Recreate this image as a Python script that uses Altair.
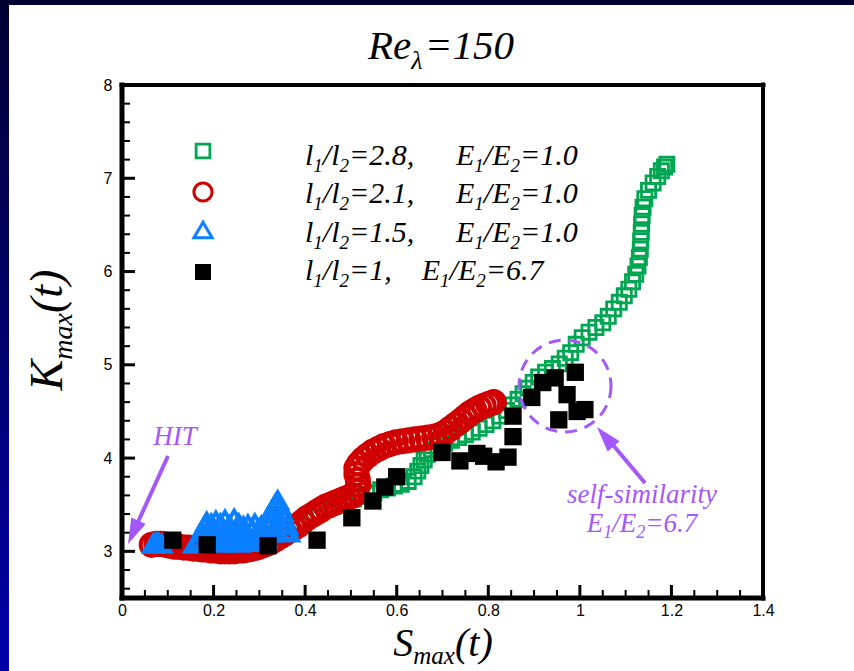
import altair as alt
import pandas as pd

# ---------------- data ----------------
green_x = [0.07, 0.085, 0.10, 0.115, 0.13, 0.145, 0.16, 0.175, 0.19, 0.205,
           0.22, 0.235, 0.25, 0.265, 0.28, 0.295, 0.31, 0.325, 0.34, 0.355,
           0.37, 0.385, 0.40, 0.415, 0.43, 0.445, 0.46, 0.475, 0.49, 0.505,
           0.52, 0.535, 0.55, 0.565, 0.58, 0.595, 0.61, 0.625, 0.638, 0.646,
           0.653, 0.66, 0.667, 0.676, 0.69, 0.705, 0.72, 0.735, 0.75, 0.765,
           0.78, 0.795, 0.81, 0.825, 0.84, 0.853, 0.865, 0.876, 0.887, 0.898,
           0.91, 0.925, 0.94, 0.955, 0.968, 0.98, 0.992, 1.005, 1.02, 1.035,
           1.05, 1.062, 1.074, 1.086, 1.097, 1.107, 1.115, 1.122, 1.127, 1.13,
           1.132, 1.133, 1.134, 1.135, 1.136, 1.138, 1.142, 1.15, 1.16, 1.17,
           1.178, 1.185, 1.19]
green_y = [3.08, 3.07, 3.07, 3.06, 3.06, 3.05, 3.05, 3.04, 3.04, 3.04,
           3.04, 3.05, 3.05, 3.06, 3.07, 3.09, 3.11, 3.14, 3.17, 3.21,
           3.25, 3.29, 3.33, 3.37, 3.41, 3.45, 3.48, 3.51, 3.54, 3.56,
           3.59, 3.61, 3.63, 3.66, 3.68, 3.70, 3.72, 3.75, 3.80, 3.86,
           3.92, 3.98, 4.04, 4.09, 4.13, 4.16, 4.19, 4.22, 4.25, 4.28,
           4.32, 4.36, 4.40, 4.45, 4.51, 4.57, 4.63, 4.69, 4.75, 4.81,
           4.87, 4.92, 4.96, 5.01, 5.07, 5.13, 5.22, 5.29, 5.35, 5.40,
           5.45, 5.52, 5.60, 5.67, 5.74, 5.81, 5.89, 5.97, 6.06, 6.15,
           6.24, 6.33, 6.42, 6.51, 6.60, 6.69, 6.78, 6.87, 6.95, 7.02,
           7.08, 7.12, 7.15]

red_x = [0.065, 0.075, 0.085, 0.095, 0.105, 0.115, 0.125, 0.135, 0.145, 0.155,
         0.165, 0.175, 0.185, 0.195, 0.205, 0.215, 0.225, 0.235, 0.245, 0.255,
         0.265, 0.275, 0.285, 0.295, 0.305, 0.315, 0.325, 0.335, 0.345, 0.355,
         0.365, 0.375, 0.385, 0.395, 0.405, 0.415, 0.425, 0.435, 0.445, 0.455,
         0.465, 0.475, 0.485, 0.495, 0.505, 0.512, 0.516, 0.515, 0.512, 0.512,
         0.518, 0.527, 0.537, 0.548, 0.56, 0.572, 0.585, 0.598, 0.612, 0.626,
         0.64, 0.654, 0.668, 0.682, 0.695, 0.707, 0.718, 0.729, 0.74, 0.75,
         0.76, 0.77, 0.78, 0.79, 0.80, 0.808, 0.812]
red_y = [3.07, 3.08, 3.08, 3.07, 3.06, 3.05, 3.05, 3.04, 3.04, 3.03,
         3.03, 3.02, 3.02, 3.01, 3.01, 3.00, 3.00, 3.00, 3.00, 3.01,
         3.01, 3.02, 3.03, 3.04, 3.06, 3.08, 3.10, 3.13, 3.16, 3.19,
         3.22, 3.25, 3.28, 3.32, 3.36, 3.39, 3.42, 3.45, 3.48, 3.50,
         3.52, 3.54, 3.56, 3.58, 3.60, 3.65, 3.71, 3.77, 3.83, 3.89,
         3.94, 3.99, 4.03, 4.07, 4.10, 4.13, 4.15, 4.17, 4.18, 4.19,
         4.20, 4.21, 4.22, 4.23, 4.25, 4.28, 4.32, 4.36, 4.40, 4.44,
         4.48, 4.51, 4.54, 4.56, 4.58, 4.59, 4.60]

blue_x = [0.068, 0.074, 0.08, 0.086, 0.158, 0.164, 0.17, 0.175, 0.18, 0.185,
          0.19, 0.195, 0.2, 0.205, 0.21, 0.215, 0.22, 0.225, 0.23, 0.235,
          0.24, 0.245, 0.25, 0.255, 0.26, 0.265, 0.27, 0.275, 0.28, 0.285,
          0.29, 0.295, 0.3, 0.305, 0.31, 0.315, 0.32, 0.325, 0.33, 0.335,
          0.34, 0.345, 0.35, 0.355, 0.36, 0.365,
          0.185, 0.195, 0.205, 0.215, 0.225, 0.235, 0.245, 0.255, 0.265, 0.275,
          0.285, 0.295, 0.305, 0.315, 0.325, 0.335, 0.345, 0.355]
blue_y = [3.08, 3.10, 3.09, 3.08, 3.08, 3.10, 3.14, 3.20, 3.27, 3.32,
          3.22, 3.30, 3.15, 3.33, 3.20, 3.30, 3.12, 3.34, 3.24, 3.28,
          3.14, 3.35, 3.22, 3.30, 3.12, 3.27, 3.18, 3.29, 3.12, 3.24,
          3.30, 3.14, 3.25, 3.28, 3.18, 3.30, 3.34, 3.40, 3.46, 3.51,
          3.55, 3.49, 3.42, 3.35, 3.28, 3.20,
          3.12, 3.10, 3.11, 3.09, 3.12, 3.10, 3.11, 3.09, 3.10, 3.12,
          3.10, 3.11, 3.12, 3.14, 3.20, 3.26, 3.30, 3.22]

black_x = [0.111, 0.186, 0.319, 0.426, 0.502, 0.548, 0.574, 0.600, 0.699, 0.738,
           0.775, 0.79, 0.817, 0.843, 0.854, 0.854, 0.895, 0.919, 0.946, 0.972,
           0.990, 0.954, 0.994, 1.011]
black_y = [3.12, 3.07, 3.06, 3.12, 3.36, 3.54, 3.69, 3.80, 4.06, 3.97,
           4.05, 4.02, 3.96, 4.01, 4.23, 4.45, 4.65, 4.81, 4.86, 4.68,
           4.92, 4.41, 4.50, 4.52]

x_ticks = [0, 0.2, 0.4, 0.6, 0.8, 1.0, 1.2, 1.4]
y_ticks = [3, 4, 5, 6, 7, 8]
legend_ratio = ["2.8", "2.1", "1.5", "1"]
legend_energy = ["1.0", "1.0", "1.0", "6.7"]

# ---------------- styling ----------------
W, H = 641, 513
PAD = {"left": 122, "top": 85, "right": 91, "bottom": 73}
SERIF = "Liberation Serif"
SANS = "Liberation Sans"
GREEN = "#00A651"
RED = "#D00000"
BLUE = "#0A7FFF"
PURPLE = "#A558F8"

xs = alt.Scale(domain=[0, 1.4], nice=False, zero=False)
ys = alt.Scale(domain=[2.5, 8], nice=False, zero=False)
xaxis = alt.Axis(values=x_ticks, format="~g", title=None, domain=False, ticks=False,
                 grid=False, labelFont=SANS, labelFontSize=16, labelColor="black",
                 labelPadding=4, labelFlush=False, labelOverlap=False, zindex=1)
yaxis = alt.Axis(values=y_ticks, format="~g", title=None, domain=False, ticks=False,
                 grid=False, labelFont=SANS, labelFontSize=16, labelColor="black",
                 labelPadding=10, labelOverlap=False, zindex=1)

one = pd.DataFrame({"k": [0]})
layers = []


def box(x1, x2, y1, y2, fill):
    return alt.Chart(one).mark_rect(fill=fill, strokeWidth=0).encode(
        x=alt.value(x1), x2=alt.value(x2), y=alt.value(y1), y2=alt.value(y2))


# slide frame (dark blue band left / top)
grad = alt.LinearGradient(gradient="linear", x1=0, y1=0, x2=0, y2=1,
                          stops=[alt.GradientStop(color="#000033", offset=0),
                                 alt.GradientStop(color="#0000A8", offset=1)])
layers.append(box(-PAD["left"], -PAD["left"] + 9, -PAD["top"], H + PAD["bottom"], grad))
layers.append(box(-PAD["left"], W + PAD["right"], -PAD["top"], -PAD["top"] + 5, "#000033"))


def series(xv, yv, **mk):
    df = pd.DataFrame({"x": xv, "y": yv})
    return alt.Chart(df).mark_point(opacity=1, **mk).encode(
        x=alt.X("x:Q", scale=xs, axis=xaxis),
        y=alt.Y("y:Q", scale=ys, axis=yaxis))


layers.append(series(green_x, green_y, shape="square", size=200, filled=False,
                     color=GREEN, strokeWidth=2.8))
layers.append(series(red_x, red_y, shape="circle", size=490, filled=False,
                     color=RED, strokeWidth=4))
layers.append(series(blue_x, blue_y, shape="triangle-up", size=330, filled=False,
                     color=BLUE, strokeWidth=4))
layers.append(series(black_x, black_y, shape="square", size=300, filled=True,
                     color="black", strokeWidth=0))

# inward ticks
x_minor = [round(i * 0.05, 2) for i in range(29) if i % 4]
y_minor = [v for v in [round(2.6 + 0.2 * i, 1) for i in range(27)] if abs(v - round(v)) > 1e-6]


def xtick(vals, ln, sw):
    return alt.Chart(pd.DataFrame({"v": vals})).mark_rule(color="black", strokeWidth=sw).encode(
        x=alt.X("v:Q", scale=xs, axis=xaxis), y=alt.value(H), y2=alt.value(H - ln))


def ytick(vals, ln, sw):
    return alt.Chart(pd.DataFrame({"v": vals})).mark_rule(color="black", strokeWidth=sw).encode(
        y=alt.Y("v:Q", scale=ys, axis=yaxis), x=alt.value(0), x2=alt.value(ln))


layers += [xtick(x_ticks, 13, 3), xtick(x_minor, 8, 2),
           ytick(y_ticks, 13, 3), ytick(y_minor, 8, 2)]

# frame: solid black bars
layers.append(box(-2.5, 2.5, -2.5, H + 2.5, "black"))
layers.append(box(-2.5, W + 2.5, H - 2.5, H + 2.5, "black"))
layers.append(box(-2.5, W + 2.5, -2, 2, "black"))
layers.append(box(W - 2, W + 2, -2.5, H + 2.5, "black"))

# ---------------- rich text helpers ----------------
TW = {' ': 250, '(': 333, ')': 333, ',': 250, '.': 250, '/': 278, '=': 675, '-': 333,
      'E': 611, 'K': 667, 'R': 611, 'S': 500, 'H': 722, 'I': 333, 'T': 556,
      'a': 500, 'e': 444, 'f': 278, 'i': 278, 'l': 278, 'm': 722, 'r': 389,
      's': 389, 't': 278, 'x': 444, 'y': 444, 'λ': 520}


def tw(s, fs):
    return sum(TW.get(c, 500) for c in s) * fs / 1000.0


texts = []


def rich(segs, x0, y0, fs, sfs, shift, color, vertical=False, center=False):
    total = sum(tw(t, sfs if s else fs) for t, s in segs)
    pos = -total / 2 if center else 0
    for t, s in segs:
        f = sfs if s else fs
        if vertical:
            texts.append((x0 + (shift if s else 0), y0 - pos, t, f, 270, color))
        else:
            texts.append((x0 + pos, y0 + (shift if s else 0), t, f, 0, color))
        pos += tw(t, f)
    return total


def px(x):
    return x - PAD["left"]


def py(y):
    return y - PAD["top"]


# title
rich([("Re", 0), ("λ", 1), ("=150", 0)], px(441), py(59), 41, 26, 10, "black", center=True)
# axis titles
rich([("S", 0), ("max", 1), ("(t)", 0)], px(443), py(656), 40, 25, 8, "black", center=True)
rich([("K", 0), ("max", 1), ("(t)", 0)], px(62), py(330), 46, 28, 10, "black",
     vertical=True, center=True)

# legend
row_base = [165, 203, 242, 280]
for i in range(4):
    w1 = rich([("l", 0), ("1", 1), ("/l", 0), ("2", 1), ("=" + legend_ratio[i] + ",", 0)],
              px(305), py(row_base[i]), 30, 19, 7, "black")
    x2 = px(456) if i < 3 else px(305) + w1 + 30
    rich([("E", 0), ("1", 1), ("/E", 0), ("2", 1), ("=" + legend_energy[i], 0)],
         x2, py(row_base[i]), 30, 19, 7, "black")

# annotations text
rich([("HIT", 0)], px(175), py(445), 27, 18, 6, PURPLE, center=True)
rich([("self-similarity", 0)], px(642), py(503), 27, 18, 6, PURPLE, center=True)
rich([("E", 0), ("1", 1), ("/E", 0), ("2", 1), ("=6.7", 0)], px(642), py(532), 27, 18, 6,
     PURPLE, center=True)

for (x, y, t, f, a, c) in texts:
    layers.append(alt.Chart(one).mark_text(
        text=t, font=SERIF, fontStyle="italic", fontSize=f, angle=a, align="left",
        baseline="alphabetic", color=c).encode(x=alt.value(x), y=alt.value(y)))

# legend symbols
leg_y = [151, 192, 230, 272]
sym = [dict(shape="square", size=190, filled=False, color=GREEN, strokeWidth=2.8),
       dict(shape="circle", size=330, filled=False, color=RED, strokeWidth=3),
       dict(shape="triangle-up", size=330, filled=False, color=BLUE, strokeWidth=3),
       dict(shape="square", size=256, filled=True, color="black", strokeWidth=0)]
for i in range(4):
    layers.append(alt.Chart(one).mark_point(opacity=1, **sym[i]).encode(
        x=alt.value(px(203)), y=alt.value(py(leg_y[i]))))

# arrows (shaft + head) and dashed circle
HEAD = "M0,0L-0.62,-2L0.62,-2Z"
arrows = [((168, 456), (138, 522), (128, 544), 24.4),
          ((645, 483), (613, 445), (597, 427), 139.4)]
for tail, base, tip, ang in arrows:
    layers.append(alt.Chart(one).mark_rule(color=PURPLE, strokeWidth=4).encode(
        x=alt.value(px(tail[0])), y=alt.value(py(tail[1])),
        x2=alt.value(px(base[0])), y2=alt.value(py(base[1]))))
    layers.append(alt.Chart(one).mark_point(shape=HEAD, size=650, filled=True, color=PURPLE,
                                            opacity=1, angle=ang, strokeWidth=0).encode(
        x=alt.value(px(tip[0])), y=alt.value(py(tip[1]))))

layers.append(alt.Chart(one).mark_point(shape="circle", size=92 * 92, filled=False, color=PURPLE,
                                        opacity=1, strokeWidth=3, strokeDash=[12, 8]).encode(
    x=alt.value(px(565)), y=alt.value(py(386))))

chart = alt.layer(*layers).properties(
    width=W, height=H, padding=PAD, autosize=alt.AutoSizeParams(type="none"),
    background="white").configure_view(stroke=None)

chart.save("out.html", embed_options={"renderer": "svg", "actions": False})
